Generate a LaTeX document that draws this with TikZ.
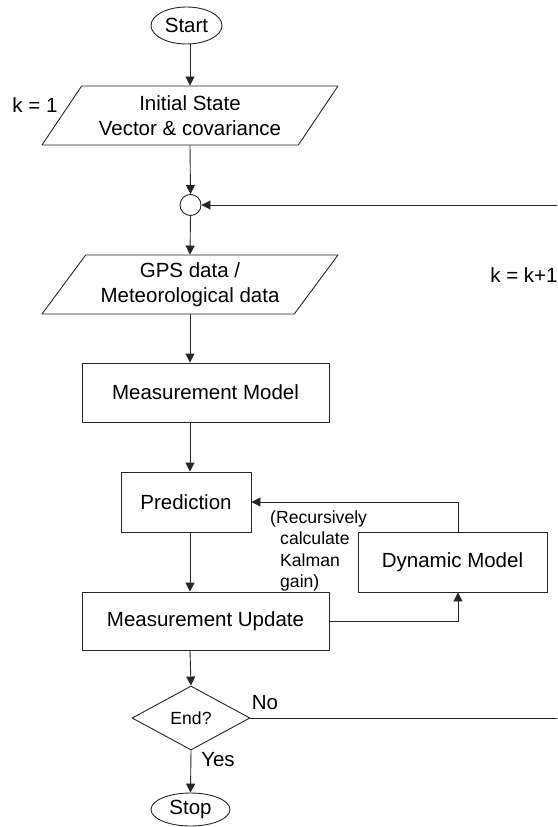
\documentclass[tikz,border=0pt]{standalone}
\usepackage{fontspec}
\setmainfont{Liberation Sans}
\usetikzlibrary{shapes.geometric,arrows.meta}
\begin{document}
\begin{tikzpicture}[x=1pt,y=-1pt,line join=round,line cap=round,
	font=\fontsize{20.5}{24.6}\selectfont,>={Triangle[length=9pt,width=9pt]},
	line/.style={draw=black!85,line width=0.9pt},
	flow/.style={line,->},
	box/.style={line,rectangle,align=center,inner sep=0pt},
	term/.style={line,ellipse,inner sep=0pt},
	io/.style={line,trapezium,trapezium left angle=45,trapezium right angle=135,
		trapezium stretches body,minimum width=296pt,minimum height=59pt,
		align=center,inner sep=0pt},
	decide/.style={line,diamond,minimum width=118pt,minimum height=64pt,
		inner sep=0pt,font=\fontsize{17.6}{21.3}\selectfont},
	note/.style={align=left,inner sep=0pt,font=\fontsize{17.6}{21.3}\selectfont}]
	%%Khung hình
	\useasboundingbox (0,0) rectangle (557,827);
	\coordinate (spine) at (190,0);
	%%Các khối
	\node[term,minimum width=71pt,minimum height=37pt] (start) at (186.5,25.5) {Start};
	\node[io] (init) at (190,115.5) {Initial State\\Vector \& covariance};
	\node[line,circle,minimum size=21pt,inner sep=0pt] (join) at (190.5,205) {};
	\node[io] (gps) at (190,284.5) {GPS data /\\Meteorological data};
	\node[box,minimum width=247pt,minimum height=59pt] (meas) at (205.5,392.5) {Measurement Model};
	\node[box,minimum width=130pt,minimum height=60pt] (pred) at (186,502) {Prediction};
	\node[box,minimum width=189pt,minimum height=60pt] (dyn) at (452.5,562) {Dynamic Model};
	\node[box,minimum width=247pt,minimum height=58pt] (upd) at (205.5,621) {Measurement Update};
	\node[decide] (endq) at (191,718) {End?};
	\node[term,minimum width=79pt,minimum height=33pt] (stop) at (190.5,809.5) {Stop};
	%%Nhãn
	\node (kone) at (35,105) {k = 1};
	\node (knext) at (524,275) {k = k+1};
	\node[note,anchor=west] (gain) at (270,551) {(Recursively\\\hspace*{10pt}calculate\\\hspace*{10pt}Kalman\\\hspace*{10pt}gain)};
	\node (no) at (265,703) {No};
	\node (yes) at (218,760) {Yes};
	%%Mũi tên
	\draw[flow] (start.south -| spine) -- (init.north -| spine);
	\draw[flow] (init.south -| spine) -- (join.north);
	\draw[flow] (join.south) -- (gps.north -| spine);
	\draw[flow] (gps.south -| spine) -- (meas.north -| spine);
	\draw[flow] (meas.south -| spine) -- (pred.north -| spine);
	\draw[flow] (pred.south -| spine) -- (upd.north -| spine);
	\draw[flow] (upd.south -| spine) -- (endq.north);
	\draw[flow] (endq.south) -- (stop.north);
	\coordinate (loop) at (458,0);
	\draw[flow] (upd.east) -| (dyn.south -| loop);
	\draw[flow] (dyn.north -| loop) |- (pred.east);
	\coordinate (rbot) at (557,718);
	\coordinate (rtop) at (557,205);
	\draw[line] (endq.east) -- (rbot);
	\draw[flow] (rtop) -- (join.east);
\end{tikzpicture}
\end{document}
